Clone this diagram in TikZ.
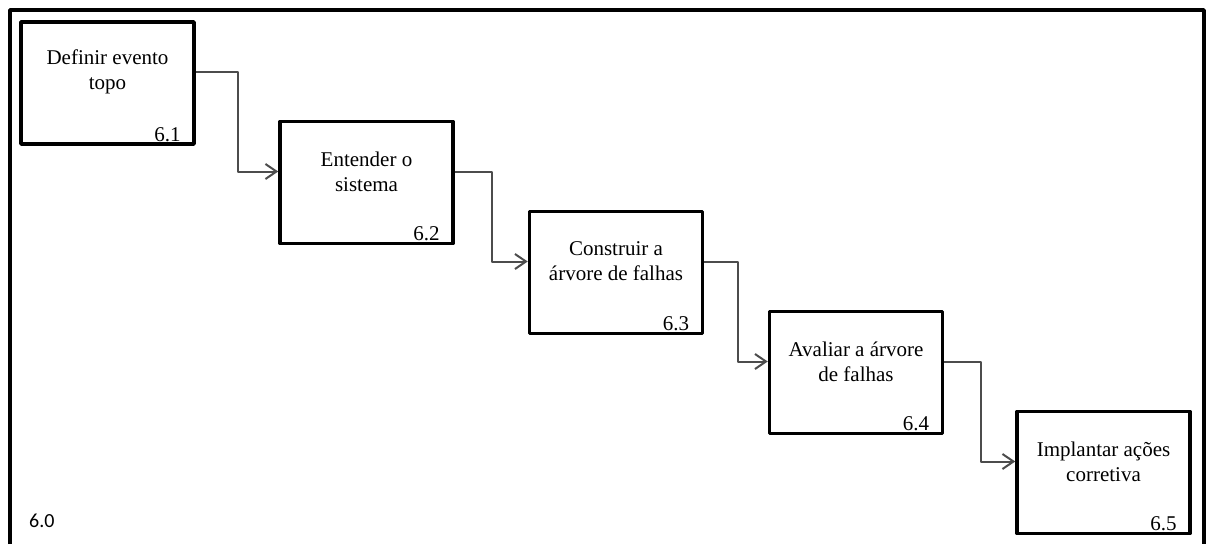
\documentclass[tikz,border=0pt]{standalone}
\usepackage{fontspec}
\setmainfont{Liberation Serif}
\newfontfamily\rotulofont{Carlito}
\usetikzlibrary{arrows.meta}
\begin{document}
\begin{tikzpicture}[x=1pt,y=-1pt,line join=round,>={Straight Barb[length=11pt,width=15pt]},
	font=\fontsize{21}{25}\selectfont,
	etapa/.style={draw,line width=3.5pt,minimum width=173pt,minimum height=122pt,inner sep=0pt},
	texto/.style={align=center,yshift=11pt},
	numero/.style={anchor=south east,inner sep=0pt,xshift=-15pt,yshift=4pt},
	seta/.style={->,draw=black!70,line width=2pt}]
	\useasboundingbox (0,0) rectangle (1206,544);
	\draw[line width=3.5pt] (10,544) -- (10,10) -- (1204,10) -- (1204,544);
	\node[etapa,label={[texto]center:Definir evento\\topo},label={[numero]south east:6.1}] (e1) at (107.5,83) {};
	\node[etapa,label={[texto]center:Entender o\\sistema},label={[numero]south east:6.2}] (e2) at (366.5,182.5) {};
	\node[etapa,label={[texto]center:Construir a\\árvore de falhas},label={[numero]south east:6.3}] (e3) at (616,272.5) {};
	\node[etapa,label={[texto]center:Avaliar a árvore\\de falhas},label={[numero]south east:6.4}] (e4) at (856,372.5) {};
	\node[etapa,label={[texto]center:Implantar ações\\corretiva},label={[numero]south east:6.5}] (e5) at (1103.5,472.5) {};
	\draw[seta] ([yshift=11pt]e1.east) -- ++(42,0) |- ([yshift=11pt]e2.west);
	\draw[seta] ([yshift=11pt]e2.east) -- ++(37,0) |- ([yshift=11pt]e3.west);
	\draw[seta] ([yshift=11pt]e3.east) -- ++(34,0) |- ([yshift=11pt]e4.west);
	\draw[seta] ([yshift=11pt]e4.east) -- ++(37,0) |- ([yshift=11pt]e5.west);
	\node[font=\rotulofont\fontsize{20}{24}\selectfont,anchor=base west,inner sep=0pt] (n0) at (29,527) {6.0};
\end{tikzpicture}
\end{document}
